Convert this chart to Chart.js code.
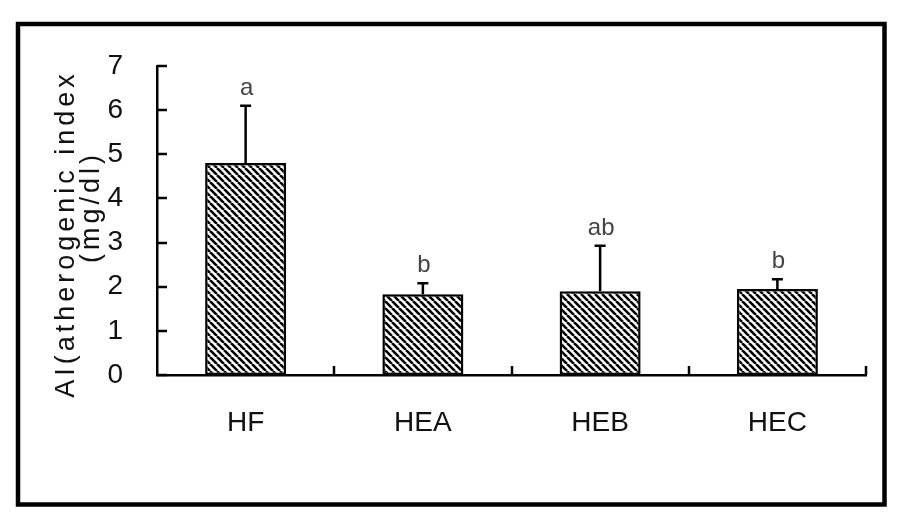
<!DOCTYPE html>
<html>
<head>
<meta charset="utf-8">
<script src="https://cdn.jsdelivr.net/npm/chart.js@4.4.0/dist/chart.umd.min.js"></script>
<style>
  html, body { margin: 0; padding: 0; background: #fff; }
  #wrap { width: 904px; height: 522px; }
</style>
</head>
<body>
<div id="wrap"><canvas id="aiChart" width="904" height="522"></canvas></div>
<script>
// dados
const categorias = ['HF', 'HEA', 'HEB', 'HEC'];
const medias = [4.8, 1.83, 1.9, 1.95];
const desvios = [1.3, 0.25, 1.03, 0.22];   // barra de erro (so pra cima)
const letras = ['a', 'b', 'ab', 'b'];
const yMin = 0, yMax = 7, yPasso = 1;
const tituloY = ['AI(atherogenic index', '(mg/dl)'];

const fonte = '"Liberation Sans", Arial, sans-serif';

// padrao hachurado "\\\"
function hachura() {
    const s = 7;
    const c = document.createElement('canvas');
    c.width = s; c.height = s;
    const g = c.getContext('2d');
    g.fillStyle = '#fff';
    g.fillRect(0, 0, s, s);
    g.strokeStyle = '#000';
    g.lineWidth = 2.6;
    g.beginPath();
    for (let k = -1; k <= 1; k++) {
        g.moveTo(k * s, 0);
        g.lineTo(k * s + s, s);
    }
    g.stroke();
    return g.createPattern(c, 'repeat');
}

const extras = {
    id: 'extras',
    afterDatasetsDraw(chart) {
        const ctx = chart.ctx;
        const xs = chart.scales.x, ys = chart.scales.y;
        const area = chart.chartArea;
        ctx.save();
        ctx.strokeStyle = '#000';
        ctx.lineWidth = 2.5;

        // marcas do eixo y (para dentro)
        ys.ticks.forEach(t => {
            const y = Math.round(ys.getPixelForValue(t.value));
            ctx.beginPath();
            ctx.moveTo(area.left, y);
            ctx.lineTo(area.left + 10, y);
            ctx.stroke();
        });
        // marcas do eixo x entre categorias
        for (let i = 1; i <= categorias.length; i++) {
            const x = Math.round(xs.getPixelForValue(i - 0.5));
            ctx.beginPath();
            ctx.moveTo(x, area.bottom);
            ctx.lineTo(x, area.bottom - 9);
            ctx.stroke();
        }

        // barras de erro + letras
        ctx.font = '24px ' + fonte;
        ctx.fillStyle = '#444';
        ctx.textAlign = 'center';
        ctx.textBaseline = 'alphabetic';
        medias.forEach((m, i) => {
            const x = xs.getPixelForValue(i);
            const y0 = ys.getPixelForValue(m);
            const y1 = ys.getPixelForValue(m + desvios[i]);
            ctx.beginPath();
            ctx.moveTo(x, y0);
            ctx.lineTo(x, y1);
            ctx.moveTo(x - 5.5, y1);
            ctx.lineTo(x + 5.5, y1);
            ctx.stroke();
            ctx.fillText(letras[i], x + 1, y1 - 11);
        });

        // titulo do eixo y, girado
        const esp = 4;
        ctx.font = '27px ' + fonte;
        ctx.fillStyle = '#111';
        ctx.letterSpacing = esp + 'px';
        ctx.textAlign = 'left';
        const posX = [74, 99];
        const centroY = [236, 209];
        tituloY.forEach((txt, i) => {
            const w = ctx.measureText(txt).width - esp;
            ctx.save();
            ctx.translate(posX[i], centroY[i]);
            ctx.rotate(-Math.PI / 2);
            ctx.fillText(txt, -w / 2, 0);
            ctx.restore();
        });
        ctx.letterSpacing = '0px';

        // moldura
        ctx.lineWidth = 4.5;
        ctx.strokeRect(18, 24, 866.5, 480.5);
        ctx.restore();
    }
};

new Chart(document.getElementById('aiChart').getContext('2d'), {
    type: 'bar',
    data: {
        labels: categorias,
        datasets: [{
            data: medias,
            backgroundColor: hachura(),
            borderColor: '#000',
            borderWidth: 2.5,
            borderSkipped: false,
            categoryPercentage: 1,
            barPercentage: 0.457
        }]
    },
    options: {
        responsive: false,
        animation: false,
        layout: { padding: { left: 0, top: 66, right: 38, bottom: 0 } },
        plugins: { legend: { display: false }, tooltip: { enabled: false } },
        scales: {
            y: {
                min: yMin,
                max: yMax,
                afterFit: s => { s.width = 157; },
                grid: { display: false, drawTicks: false },
                border: { display: true, color: '#000', width: 2.5 },
                ticks: {
                    stepSize: yPasso,
                    padding: 34,
                    color: '#111',
                    font: { family: fonte, size: 28 }
                }
            },
            x: {
                afterFit: s => { s.height = 522 - 375; },
                grid: { display: false, drawTicks: false },
                border: { display: true, color: '#000', width: 2.5 },
                ticks: {
                    padding: 31,
                    color: '#111',
                    font: { family: fonte, size: 28 }
                }
            }
        }
    },
    plugins: [extras]
});
</script>
</body>
</html>
